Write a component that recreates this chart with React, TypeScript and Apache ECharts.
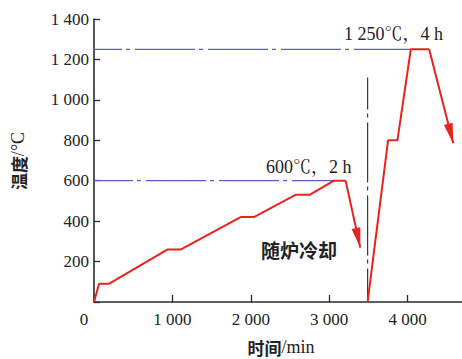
import React, { useEffect, useRef } from "react";
import * as echarts from "echarts";

// Heat-treatment curve (time in min, temperature in °C)
const stage1: [number, number][] = [
  [0, 0], [65, 90], [190, 90], [940, 260], [1110, 260], [1870, 420],
  [2040, 420], [2570, 530], [2750, 530], [3060, 600], [3210, 600],
];
const cool1: [number, number][] = [[3210, 600], [3396, 269]];
const stage2: [number, number][] = [
  [3490, 0], [3751, 800], [3870, 800], [4041, 1250], [4275, 1250],
];
const cool2: [number, number][] = [[4275, 1250], [4582, 785]];
const ref1250: [number, number][] = [[0, 1250], [4041, 1250]];
const ref600: [number, number][] = [[0, 600], [3060, 600]];
const refVertical: [number, number][] = [[3490, 1110], [3490, 0]];

const xTickValues = [0, 1000, 2000, 3000, 4000];
const yTickValues = [200, 400, 600, 800, 1000, 1200, 1400];

const label1250 = "1 250℃，4 h";
const label600 = "600℃，2 h";
const coolLabel = "随炉冷却";
const yNameCn = "温度";
const yNameUnit = "/°C";
const xNameCn = "时间";
const xNameUnit = "/min";

const RED = "#e8231c";
const REF = "#5f5cc8";
const SERIF = "Liberation Serif";
const SERIF_CJK = "Liberation Serif, Noto Serif CJK SC";
const CJK = "Noto Sans CJK SC";
// arrowhead whose tip sits at the centre of a 40x40 symbol box
const ARROW = "path://M20,20L24.5,40L15.5,40ZM0,0M40,0";

const fmt = (v: number) =>
  String(v).replace(/\B(?=(\d{3})+(?!\d))/g, " ");

export default function App() {
  const ref = useRef<HTMLDivElement>(null);
  useEffect(() => {
    if (!ref.current) return;
    const chart = echarts.init(ref.current, null, { renderer: "svg" });
    const arrowMark = (seg: [number, number][]) => ({
      silent: true,
      symbol: ["none", ARROW],
      symbolSize: 40,
      label: { show: false },
      lineStyle: { color: RED, width: 2, type: "solid" },
      emphasis: { disabled: true },
      data: [[{ coord: seg[0] }, { coord: seg[1] }]],
    });
    chart.setOption({
      animation: false,
      grid: { left: 94, right: -24, top: 19, bottom: 57, outerBoundsMode: "none", containLabel: false },
      xAxis: {
        type: "value",
        min: 0,
        max: 5000,
        interval: 1000,
        splitLine: { show: false },
        axisLine: { lineStyle: { color: "#2b2b2b", width: 1.6 } },
        axisTick: { inside: true, length: 7, lineStyle: { color: "#2b2b2b", width: 1.3 } },
        axisLabel: {
          margin: 9,
          color: "#222",
          fontFamily: SERIF,
          fontSize: 17,
          formatter: (v: number) =>
            !xTickValues.includes(v) ? "" : v === 0 ? "{z|0}" : fmt(v),
          rich: { z: { fontFamily: SERIF, fontSize: 17, color: "#222", padding: [0, 20, 0, 0] } },
        },
      },
      yAxis: {
        type: "value",
        min: 0,
        max: 1400,
        interval: 200,
        splitLine: { show: false },
        axisLine: { lineStyle: { color: "#2b2b2b", width: 1.6 } },
        axisTick: { inside: true, length: 6, lineStyle: { color: "#2b2b2b", width: 1.3 } },
        axisLabel: {
          margin: 5,
          color: "#222",
          fontFamily: SERIF,
          fontSize: 17,
          formatter: (v: number) => (yTickValues.includes(v) ? fmt(v) : ""),
        },
      },
      series: [
        {
          type: "line", data: ref1250, symbol: "none", silent: true,
          lineStyle: { color: REF, width: 1.2, type: [60, 4, 4, 5], dashOffset: 32 },
        },
        {
          type: "line", data: ref600, symbol: "none", silent: true,
          lineStyle: { color: REF, width: 1.2, type: [60, 4, 4, 5], dashOffset: 21 },
        },
        {
          type: "line", data: refVertical, symbol: "none", silent: true,
          lineStyle: { color: "#3a3a3a", width: 1.2, type: [60, 4, 4, 5], dashOffset: 28 },
        },
        {
          type: "line", data: stage1, symbol: "none", silent: true,
          lineStyle: { color: RED, width: 2 },
          markLine: arrowMark(cool1),
        },
        {
          type: "line", data: stage2, symbol: "none", silent: true,
          lineStyle: { color: RED, width: 2 },
          markLine: arrowMark(cool2),
        },
      ],
      graphic: [
        {
          type: "text", x: 344, y: 34,
          style: { text: label1250, fontFamily: SERIF_CJK, fontSize: 18, fill: "#222", verticalAlign: "middle" },
        },
        {
          type: "text", x: 266, y: 167,
          style: { text: label600, fontFamily: SERIF_CJK, fontSize: 18, fill: "#222", verticalAlign: "middle" },
        },
        {
          type: "text", x: 261, y: 249,
          style: { text: coolLabel, fontFamily: CJK, fontWeight: "bold", fontSize: 19, fill: "#222", verticalAlign: "middle" },
        },
        {
          type: "text", x: 281, y: 347,
          style: {
            text: `{a|${xNameCn}}{b|${xNameUnit}}`, textAlign: "center", verticalAlign: "middle",
            rich: {
              a: { fontFamily: CJK, fontWeight: "bold", fontSize: 17, fill: "#222" },
              b: { fontFamily: SERIF, fontSize: 18, fill: "#222" },
            },
          },
        },
        {
          type: "text", x: 18, y: 161, rotation: Math.PI / 2,
          style: {
            text: `{a|${yNameCn}}{b|${yNameUnit}}`, textAlign: "center", verticalAlign: "middle",
            rich: {
              a: { fontFamily: CJK, fontWeight: "bold", fontSize: 17, fill: "#222" },
              b: { fontFamily: SERIF, fontSize: 18, fill: "#222" },
            },
          },
        },
      ],
    });
    return () => chart.dispose();
  }, []);
  return (
    <div
      ref={ref}
      style={{ position: "absolute", left: 0, top: 0, width: 462, height: 359, background: "#fff" }}
    />
  );
}
